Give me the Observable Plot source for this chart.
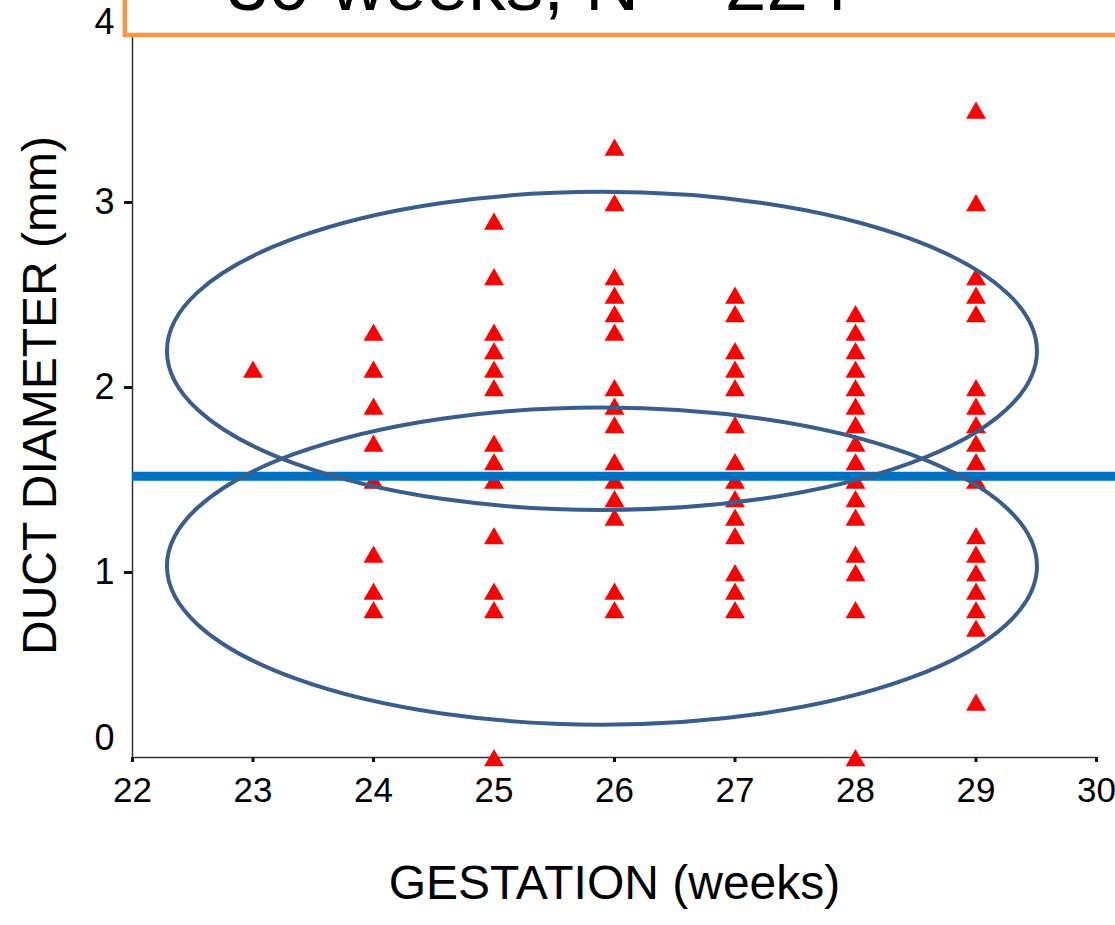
<!DOCTYPE html>
<html><head><meta charset="utf-8">
<script src="https://cdn.jsdelivr.net/npm/d3@7"></script>
<script src="https://cdn.jsdelivr.net/npm/@observablehq/plot@0.6"></script>
<style>html,body{margin:0;padding:0;background:#fff;overflow:hidden}</style>
</head><body><div id="chart"></div>
<script>
// Data
const weeks = [23, 24, 25, 26, 27, 28, 29];
const diameters = [
  [2.1],
  [2.3, 2.1, 1.9, 1.7, 1.5, 1.1, 0.9, 0.8],
  [2.9, 2.6, 2.3, 2.2, 2.1, 2.0, 1.7, 1.6, 1.5, 1.2, 0.9, 0.8, 0.0],
  [3.3, 3.0, 2.6, 2.5, 2.4, 2.3, 2.0, 1.9, 1.8, 1.6, 1.5, 1.4, 1.3, 0.9, 0.8],
  [2.5, 2.4, 2.2, 2.1, 2.0, 1.8, 1.6, 1.5, 1.4, 1.3, 1.2, 1.0, 0.9, 0.8],
  [2.4, 2.3, 2.2, 2.1, 2.0, 1.9, 1.8, 1.7, 1.6, 1.5, 1.4, 1.3, 1.1, 1.0, 0.8, 0.0],
  [3.5, 3.0, 2.6, 2.5, 2.4, 2.0, 1.9, 1.8, 1.7, 1.6, 1.5, 1.2, 1.1, 1.0, 0.9, 0.8, 0.7, 0.3]
];
const xTicks = [22, 23, 24, 25, 26, 27, 28, 29, 30];
const yTicks = [1, 2, 3];
const yTopTick = [4];
const yZeroTick = [0];
const meanLine = [1.52];
const ellipses = [
  {cx: 25.9, cy: 2.195, rx: 3.61, ry: 0.86},
  {cx: 25.9, cy: 1.032, rx: 3.61, ry: 0.857}
];
const titleBox = [{x1: 21.94, x2: 31, y1: 3.903, y2: 5}];
const titleText = ["30 weeks, N = 224"];
const xLabel = ["GESTATION (weeks)"];
const yLabel = ["DUCT DIAMETER (mm)"];

const points = weeks.flatMap((w, i) => diameters[i].map(d => ({week: w, diameter: d})));

function ellipseMark(data) {
  return (index, scales) => {
    const g = d3.create("svg:g");
    for (const e of data) {
      const cx = scales.x(e.cx), cy = scales.y(e.cy);
      g.append("ellipse")
        .attr("cx", cx).attr("cy", cy)
        .attr("rx", scales.x(e.cx + e.rx) - cx)
        .attr("ry", cy - scales.y(e.cy + e.ry))
        .attr("fill", "none")
        .attr("stroke", "#3a5e8c")
        .attr("stroke-width", 4);
    }
    return g.node();
  };
}

const fmt = d3.format("d");

const chart = Plot.plot({
  width: 1115,
  height: 925,
  marginTop: 17,
  marginBottom: 168,
  marginLeft: 132,
  marginRight: 19,
  style: {fontFamily: "'Liberation Sans', Arial, sans-serif", background: "white", color: "black", overflow: "hidden"},
  x: {domain: [22, 30], axis: null},
  y: {domain: [0, 4], axis: null},
  marks: [
    Plot.ruleY([0], {x1: 22, x2: 30, stroke: "#333", strokeWidth: 1.5}),
    Plot.ruleX([22], {y1: 0, y2: 3.9, stroke: "#333", strokeWidth: 1.5}),
    Plot.axisX(xTicks, {tickSize: 5, tickPadding: 15, strokeWidth: 3, stroke: "#111", fontSize: 35, fill: "black", tickFormat: fmt}),
    Plot.axisY(yTicks, {tickSize: 8, tickPadding: 10, strokeWidth: 3, stroke: "#111", fontSize: 36, fill: "black", tickFormat: fmt}),
    Plot.axisY(yTopTick, {tickSize: 0, tickPadding: 18, fontSize: 36, fill: "black", dy: 5, tickFormat: fmt}),
    Plot.axisY(yZeroTick, {tickSize: 0, tickPadding: 18, fontSize: 36, fill: "black", dy: -19, tickFormat: fmt}),
    Plot.dot(points, {x: "week", y: "diameter", symbol: "triangle", r: 7.4, fill: "#ff0000", dy: 3}),
    Plot.ruleY(meanLine, {x1: 22, x2: 31, stroke: "#0070c0", strokeWidth: 9}),
    ellipseMark(ellipses),
    Plot.rect(titleBox, {x1: "x1", x2: "x2", y1: "y1", y2: "y2", fill: "white", stroke: "#f79646", strokeWidth: 4.5}),
    Plot.text(titleText, {x: 22.78, y: 4.04, text: d => d, textAnchor: "start", lineAnchor: "bottom", fontSize: 75, fill: "black"}),
    Plot.text(xLabel, {frameAnchor: "bottom", text: d => d, dy: 141, fontSize: 48, fill: "black"}),
    Plot.text(yLabel, {frameAnchor: "left", text: d => d, rotate: -90, textAnchor: "middle", dx: -92, dy: 8, fontSize: 48, fill: "black"})
  ]
});
document.getElementById("chart").appendChild(chart);
</script>
</body></html>
